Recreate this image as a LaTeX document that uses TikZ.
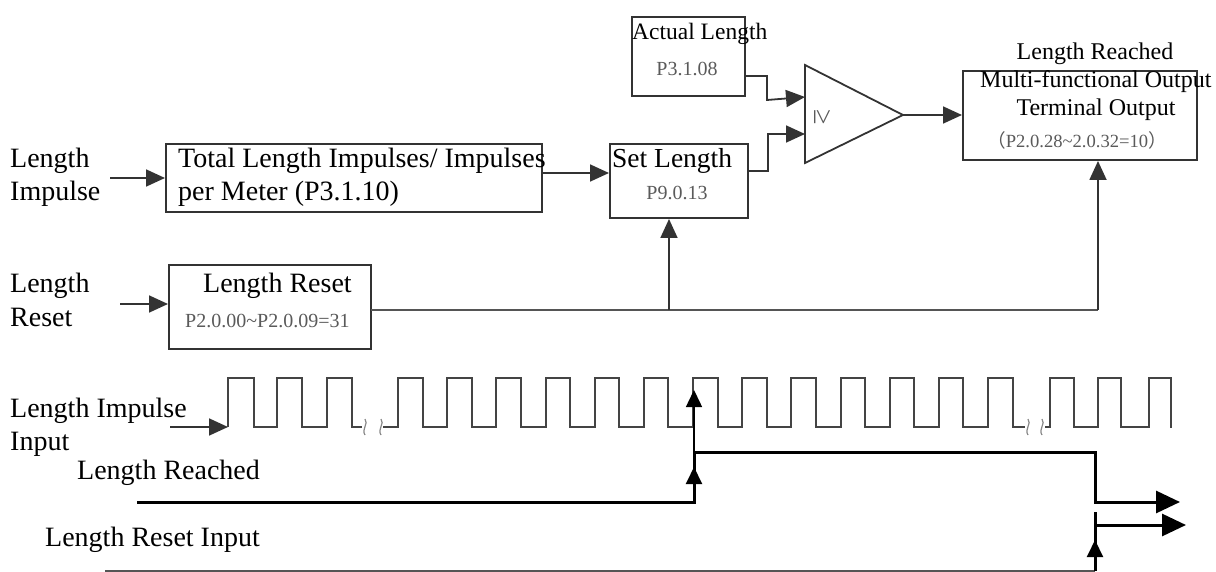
\documentclass[tikz,border=0pt]{standalone}
\usepackage{fontspec}
\setmainfont{Liberation Serif}
\newfontfamily\cjkfont{Noto Sans CJK SC}
\usetikzlibrary{arrows.meta,calc}
\definecolor{boxline}{HTML}{333333}
\definecolor{partext}{HTML}{5A5A5A}
\definecolor{wavec}{HTML}{444444}
\definecolor{thinc}{HTML}{555555}
\definecolor{squigc}{HTML}{888888}
\newcommand{\myfs}[1]{\fontsize{#1pt}{#1pt}\selectfont}
\begin{document}
\begin{tikzpicture}[x=1pt,y=-1pt,
  blk/.style={draw=boxline, line width=2pt, inner sep=0pt},
  conn/.style={draw=boxline, line width=1.8pt, -{Triangle[length=19pt,width=17pt]}},
  plainline/.style={draw=thinc, line width=1.6pt},
  wave/.style={draw=wavec, line width=2pt},
  squig/.style={draw=squigc, line width=1.2pt},
  sig/.style={draw=black, line width=3pt},
  sigarrow/.style={draw=black, line width=2pt, -{Triangle[length=17pt,width=16pt]}},
  bigarrow/.style={draw=black, line width=3pt, -{Triangle[length=24pt,width=22pt]}},
  txt/.style={anchor=base west, inner sep=0pt},
  ctxt/.style={anchor=base, inner sep=0pt},
  par/.style={text=partext}
]
\useasboundingbox (0,0) rectangle (1216,572);

% ---------- boxes ----------
\node[blk, minimum width=376pt, minimum height=68pt] (total) at (354,178) {};
\node[blk, minimum width=138pt, minimum height=74pt] (setlen) at (679,181) {};
\node[blk, minimum width=113pt, minimum height=79pt] (actual) at (688.5,56.5) {};
\node[blk, minimum width=234pt, minimum height=89pt] (output) at (1080,115.5) {};
\node[blk, minimum width=202pt, minimum height=84pt] (reset) at (270,307) {};

% comparator
\coordinate (cA) at (805,65);
\coordinate (cB) at (805,163);
\coordinate (cT) at (903,115);
\draw[draw=boxline, line width=1.8pt, line join=miter] (cA) -- (cT) -- (cB) -- cycle;
\node[inner sep=0pt, text=partext, font=\myfs{28}, rotate=-90] (geq) at (823,117) {≥};

% ---------- texts ----------
\node[txt, font=\myfs{28}] (liA) at (10,167.7) {Length};
\node[txt, font=\myfs{28}] (liB) at (10,200.7) {Impulse};
\node[txt, font=\myfs{28}] (totA) at (178,167.7) {Total Length Impulses/ Impulses};
\node[txt, font=\myfs{28}] (totB) at (178,200.7) {per Meter (P3.1.10)};
\node[txt, font=\myfs{27.5}] (setA) at (612,168) {Set Length};
\node[ctxt, par, font=\myfs{20}] (setB) at (677,200) {P9.0.13};
\node[txt, font=\myfs{23.5}] (actA) at (632,40) {Actual Length};
\node[ctxt, par, font=\myfs{20}] (actB) at (687,76) {P3.1.08};
\node[ctxt, font=\myfs{24}] (outA) at (1095,60) {Length Reached};
\node[txt, font=\myfs{24}] (outB) at (980,88) {Multi-functional Output};
\node[ctxt, font=\myfs{24}] (outC) at (1096,116) {Terminal Output};
\node[ctxt, par, font=\myfs{18.6}] (outD) at (1077,148) {{\cjkfont （}P2.0.28\textasciitilde 2.0.32=10{\cjkfont ）}};
\node[txt, font=\myfs{28}] (lrA) at (10,293) {Length};
\node[txt, font=\myfs{28}] (lrB) at (10,326) {Reset};
\node[txt, font=\myfs{28}] (rstA) at (203,293) {Length Reset};
\node[txt, par, font=\myfs{20}] (rstB) at (185,327) {P2.0.00\textasciitilde P2.0.09=31};
\node[txt, font=\myfs{28}] (wiA) at (10,417) {Length Impulse};
\node[txt, font=\myfs{28}] (wiB) at (10,450) {Input};
\node[txt, font=\myfs{28}] (lreach) at (77,479) {Length Reached};
\node[txt, font=\myfs{28}] (lrin) at (45,546) {Length Reset Input};

% ---------- block connectors ----------
\coordinate (liStart) at (110,178);
\draw[conn] (liStart) -- (total.west);
\coordinate (tOut) at (542,173);
\draw[conn] (tOut) -- (tOut -| setlen.west);
\coordinate (aOut) at (745,76);
\coordinate (cIn1) at (805,97);
\draw[conn] (aOut) -- (767,76) -- (767,100) -- (cIn1);
\coordinate (sOut) at (748,171);
\coordinate (cIn2) at (805,134);
\draw[conn] (sOut) -- (768,171) -- (768,134) -- (cIn2);
\draw[conn] (cT) -- (cT -| output.west);
\coordinate (rIn) at (120,304);
\draw[conn] (rIn) -- (rIn -| reset.west);
\coordinate (rOut) at (371,310);
\coordinate (jSet) at (669,310);
\coordinate (jOut) at (1098,310);
\draw[plainline] (rOut) -- (jOut);
\draw[conn] (jSet) -- (jSet |- setlen.south);
\draw[conn] (jOut) -- (jOut |- output.south);

% ---------- impulse waveform ----------
\coordinate (wStart) at (170,427);
\coordinate (wRise) at (228,427);
\draw[conn] (wStart) -- (wRise);
\draw[wave] (wRise) -- (228,378) -- (254,378) -- (254,427) -- (277,427) -- (277,378)
  -- (302,378) -- (302,427) -- (327,427) -- (327,378) -- (352,378) -- (352,427) -- (362,427);
\draw[wave] (383,427) foreach \k in {0,...,12} {
   -- ({398+49.17*\k},427) -- ({398+49.17*\k},378) -- ({422.5+49.17*\k},378) -- ({422.5+49.17*\k},427) }
   -- (1025,427);
\draw[wave] (1045,427) -- (1050,427) -- (1050,378) -- (1074,378) -- (1074,427) -- (1098,427)
  -- (1098,378) -- (1121,378) -- (1121,427) -- (1149,427) -- (1149,378) -- (1171,378) -- (1171,428);
\foreach \sx in {365,381,1028,1042}{
  \draw[squig] (\sx,419) .. controls (\sx+4,424) and (\sx-4,429) .. (\sx,435);
}
\coordinate (wArrS) at (694,440);
\coordinate (wArrE) at (694,390);
\draw[sigarrow, line width=1.5pt] (wArrS) -- (wArrE);

% ---------- length reached signal ----------
\coordinate (lrS) at (137,502);
\coordinate (lrE) at (1180,502);
\draw[sig] (lrS) -- (694,502) -- (694,452) -- (1095,452) -- (1095,502) -- (1156,502);
\draw[bigarrow] (1150,502) -- (lrE);
\coordinate (upA) at (694,502);
\coordinate (upB) at (694,467);
\draw[sigarrow] (upA) -- (upB);
\draw[draw=black, line width=1.2pt] (694,452) -- (694,440);

% ---------- length reset input signal ----------
\coordinate (riS) at (105,571);
\coordinate (riC) at (1095,571);
\draw[draw=thinc, line width=1.3pt] (riS) -- (riC);
\draw[sig] (riC) -- (1095,512);
\coordinate (riUp) at (1095,540);
\draw[sigarrow] (riC) -- (riUp);
\coordinate (riOutS) at (1095,525);
\coordinate (riOutE) at (1186,525);
\draw[bigarrow] (riOutS) -- (riOutE);
\end{tikzpicture}
\end{document}
